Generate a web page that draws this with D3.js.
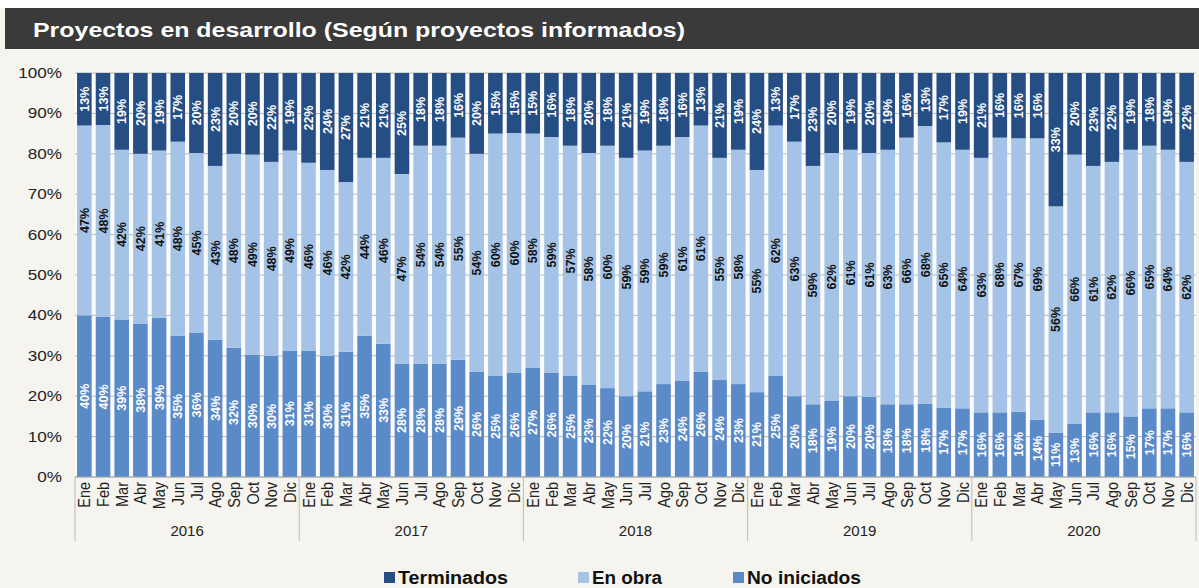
<!DOCTYPE html>
<html>
<head>
<meta charset="utf-8">
<script src="https://cdn.jsdelivr.net/npm/d3@7"></script>
<style>
  body { margin: 0; background: #ffffff; font-family: "Liberation Sans", Arial, sans-serif; }
</style>
</head>
<body>
<div id="chart"></div>
<script>
// data
var years = ["2016", "2017", "2018", "2019", "2020"];
var months = ["Ene","Feb","Mar","Abr","May","Jun","Jul","Ago","Sep","Oct","Nov","Dic"];

var noIniciados = [
  40,40,39,38,39,35,36,34,32,30,30,31,
  31,30,31,35,33,28,28,28,29,26,25,26,
  27,26,25,23,22,20,21,23,24,26,24,23,
  21,25,20,18,19,20,20,18,18,18,17,17,
  16,16,16,14,11,13,16,16,15,17,17,16
];
var enObra = [
  47,48,42,42,41,48,45,43,48,49,48,49,
  46,46,42,44,46,47,54,54,55,54,60,60,
  58,59,57,58,60,59,59,59,61,61,55,58,
  55,62,63,59,62,61,61,63,66,68,65,64,
  63,68,67,69,56,66,61,62,66,65,64,62
];
var terminados = [
  13,13,19,20,19,17,20,23,20,20,22,19,
  22,24,27,21,21,25,18,18,16,20,15,15,
  15,16,18,20,18,21,19,18,16,13,21,19,
  24,13,17,23,20,19,20,19,16,13,17,19,
  21,16,16,16,33,20,23,22,19,18,19,22
];
var yTicks = [0,10,20,30,40,50,60,70,80,90,100];

var keys = ["noIniciados", "enObra", "terminados"];
var names = {noIniciados: "No iniciados", enObra: "En obra", terminados: "Terminados"};
var colors = {noIniciados: "#5b8ac8", enObra: "#a5c3e6", terminados: "#254e84"};
var labelColor = {noIniciados: "#ffffff", enObra: "#111111", terminados: "#ffffff"};

// build rows
var rows = [];
years.forEach(function(y, yi){
  months.forEach(function(m, mi){
    var i = yi * 12 + mi;
    rows.push({id: y + "-" + m, year: y, month: m,
      noIniciados: noIniciados[i], enObra: enObra[i], terminados: terminados[i]});
  });
});

var W = 1199, H = 588;
var margin = {left: 75, right: 3, top: 73, bottom: 111};
var width = W - margin.left - margin.right,
    height = H - margin.top - margin.bottom;

var svg = d3.select("#chart").append("svg")
  .attr("width", W).attr("height", H);

// background + title bar
svg.append("rect").attr("x", 0).attr("y", 0).attr("width", W).attr("height", H).attr("fill", "#f5f4ef");
svg.append("rect").attr("x", 0).attr("y", 0).attr("width", W).attr("height", 8).attr("fill", "#ffffff");
svg.append("rect").attr("x", 5).attr("y", 8).attr("width", W - 5).attr("height", 41).attr("fill", "#3a3a3a");
svg.append("text")
  .attr("x", 33).attr("y", 37)
  .attr("fill", "#ffffff")
  .attr("textLength", 652).attr("lengthAdjust", "spacingAndGlyphs")
  .style("font-size", "21px").style("font-weight", "bold")
  .text("Proyectos en desarrollo (Según proyectos informados)");

var g = svg.append("g").attr("transform", "translate(" + margin.left + "," + margin.top + ")");

var x = d3.scaleBand().domain(rows.map(function(d){ return d.id; }))
  .range([0, width]).paddingInner(0.22).paddingOuter(0.11);
var y = d3.scaleLinear().domain([0, 1]).range([height, 0]);

g.append("rect").attr("width", width).attr("height", height).attr("fill", "#fbfbf9");

// grid
g.selectAll(".grid").data(yTicks).enter().append("line")
  .attr("x1", 0).attr("x2", width)
  .attr("y1", function(d){ return y(d / 100); })
  .attr("y2", function(d){ return y(d / 100); })
  .attr("stroke", "#b8b8b8").attr("stroke-width", 1);

// y axis labels (stretched a bit like the original)
g.selectAll(".ylab").data(yTicks).enter().append("text")
  .attr("transform", function(d){ return "translate(-13," + y(d / 100) + ") scale(1.22,1)"; })
  .attr("dy", "0.35em").attr("text-anchor", "end")
  .style("font-size", "14px").attr("fill", "#222")
  .text(function(d){ return d + "%"; });

var stack = d3.stack().keys(keys).offset(d3.stackOffsetExpand);
var series = stack(rows);

var layer = g.selectAll(".layer").data(series).enter().append("g");
layer.selectAll("rect").data(function(s){ return s.map(function(p){ p.key = s.key; return p; }); })
  .enter().append("rect")
    .attr("x", function(d){ return x(d.data.id); })
    .attr("width", x.bandwidth())
    .attr("y", function(d){ return y(d[1]); })
    .attr("height", function(d){ return y(d[0]) - y(d[1]); })
    .attr("fill", function(d){ return colors[d.key]; });

layer.selectAll("text").data(function(s){ return s; })
  .enter().append("text")
    .attr("transform", function(d){
      var cx = x(d.data.id) + x.bandwidth() / 2;
      var cy = (y(d[0]) + y(d[1])) / 2;
      return "translate(" + cx + "," + cy + ") rotate(-90)";
    })
    .attr("text-anchor", "middle").attr("dy", "0.36em")
    .style("font-size", "12.5px").style("font-weight", "bold")
    .attr("fill", function(d){ return labelColor[d.key]; })
    .text(function(d){ return d.data[d.key] + "%"; });

// x axis
g.append("line").attr("x1", 0).attr("x2", width).attr("y1", height).attr("y2", height)
  .attr("stroke", "#aaa");
g.selectAll(".mlab").data(rows).enter().append("text")
  .attr("transform", function(d){
    return "translate(" + (x(d.id) + x.bandwidth() / 2) + "," + (height + 5) + ") rotate(-90) scale(1,1.2)";
  })
  .attr("text-anchor", "end").attr("dy", "0.35em")
  .style("font-size", "14.5px").attr("fill", "#222")
  .text(function(d){ return d.month; });

// year separators
var yearW = width / years.length;
g.selectAll(".ysep").data(d3.range(years.length + 1)).enter().append("line")
  .attr("x1", function(i){ return i * yearW; }).attr("x2", function(i){ return i * yearW; })
  .attr("y1", height).attr("y2", height + 64)
  .attr("stroke", "#bbbbbb");
g.selectAll(".ylab2").data(years).enter().append("text")
  .attr("x", function(d, i){ return (i + 0.5) * yearW; })
  .attr("y", height + 59).attr("text-anchor", "middle")
  .style("font-size", "15px").attr("fill", "#222")
  .text(function(d){ return d; });

// legend
var legendItems = [
  {key: "terminados", x: 384, len: 110},
  {key: "enObra", x: 578, len: 70},
  {key: "noIniciados", x: 733, len: 114}
];
var lg = svg.selectAll(".leg").data(legendItems).enter().append("g")
  .attr("transform", function(d){ return "translate(" + d.x + ",584)"; });
lg.append("rect").attr("x", 0).attr("y", -12).attr("width", 11).attr("height", 11)
  .attr("fill", function(d){ return colors[d.key]; });
lg.append("text").attr("x", 14).attr("y", 0)
  .attr("textLength", function(d){ return d.len; }).attr("lengthAdjust", "spacingAndGlyphs")
  .style("font-size", "18px").style("font-weight", "bold").attr("fill", "#111")
  .text(function(d){ return names[d.key]; });
</script>
</body>
</html>
